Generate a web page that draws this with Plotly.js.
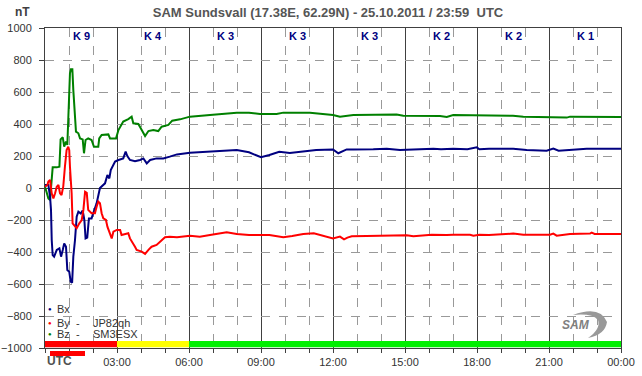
<!DOCTYPE html>
<html>
<head>
<meta charset="utf-8">
<script src="https://cdn.plot.ly/plotly-3.0.1.min.js"></script>
<style>html,body{margin:0;padding:0;background:#fff;}#chart{width:642px;height:376px;}</style>
</head>
<body>
<div id="chart"></div>
<script>
// ---- data (hours UTC, nT) ----
const tBz = [0,0.07,0.14,0.21,0.28,0.32,0.49,0.6,0.65,0.74,0.8,0.875,0.93,0.99,1.04,1.08,1.14,1.18,1.25,1.29,1.39,1.46,1.57,1.625,1.69,1.8,1.94,2.04,2.22,2.26,2.36,2.64,2.71,2.96,3.06,3.26,3.47,3.61,3.68,3.89,4.03,4.17,4.31,4.51,4.72,4.86,5.14,5.3,5.625,6.04,6.875,7.3,7.99,8.5,8.96,9.65,9.93,11.04,11.8,12.0,12.29,12.85,14.65,14.93,16.46,16.74,17.01,18.4,19.5,19.93,20.6,21.04,21.74,21.875,22.57,24];
const bz  = [8,-33,-65,-75,71,129,129,133,304,317,258,290,269,467,717,742,742,612,446,352,342,310,304,217,300,310,300,258,258,310,331,335,310,310,362,415,431,446,404,400,362,325,356,362,356,383,394,421,429,446,456,462,471,471,462,462,471,471,462,456,446,456,460,452,450,444,456,456,452,446,444,440,440,446,444,444];

const tBx = [0,0.14,0.21,0.25,0.28,0.32,0.38,0.49,0.6,0.67,0.74,0.8,0.875,0.93,1.01,1.07,1.13,1.18,1.25,1.32,1.39,1.49,1.57,1.64,1.69,1.76,1.83,1.94,2.01,2.15,2.29,2.4,2.5,2.6,2.68,2.74,2.92,3.06,3.26,3.36,3.43,3.54,3.75,3.96,4.1,4.24,4.38,4.65,4.93,5.2,5.5,6.04,6.875,7.43,7.99,8.5,9.0,9.35,9.76,10.2,10.76,11.3,12.0,12.22,12.57,12.85,13.68,14.24,14.79,15.5,16.18,16.5,17.01,17.6,17.99,18.1,18.5,19.51,20.07,20.9,21.18,21.4,22.01,22.57,24];
const bx  = [19,19,-54,-137,-325,-419,-429,-387,-377,-429,-387,-346,-367,-512,-523,-585,-592,-429,-325,-179,-148,-160,-140,-200,-315,-310,-190,-190,-158,-96,0,15,29,81,60,112,165,175,185,227,200,175,167,175,185,154,175,185,185,196,210,221,227,231,237,223,192,206,227,219,229,237,241,217,241,240,242,246,237,240,246,242,246,242,254,242,246,246,237,233,246,233,242,246,246];

const tBy = [0,0.1,0.14,0.21,0.28,0.35,0.42,0.49,0.56,0.625,0.69,0.76,0.83,0.9,0.97,1.01,1.04,1.11,1.15,1.25,1.32,1.43,1.53,1.6,1.67,1.74,1.8,1.94,2.08,2.15,2.22,2.29,2.36,2.43,2.54,2.6,2.68,2.78,2.85,2.99,3.13,3.19,3.47,3.54,3.75,3.82,4.03,4.17,4.31,4.44,4.65,4.86,5.0,5.2,5.5,6.04,6.45,6.875,7.57,7.99,8.5,9.35,9.93,10.3,10.76,11.2,11.6,12.0,12.29,12.46,12.6,12.78,13.4,13.96,15.07,15.35,15.9,16.11,16.74,17.0,17.71,17.85,18.1,18.5,19.51,19.93,21.04,21.18,21.32,21.6,21.875,22.71,22.78,22.9,24];
const by  = [8,19,40,50,-33,-65,-33,8,19,-33,-44,8,133,237,258,237,133,-33,-221,-242,-252,-221,-200,-137,-23,-30,-137,-158,-158,-117,-85,-95,-158,-190,-200,-242,-273,-315,-273,-262,-262,-294,-283,-315,-367,-387,-398,-412,-387,-367,-356,-325,-308,-304,-308,-298,-304,-294,-277,-287,-294,-294,-308,-300,-287,-283,-300,-315,-304,-321,-310,-302,-300,-298,-296,-302,-298,-292,-294,-292,-292,-298,-292,-294,-285,-292,-292,-285,-298,-292,-287,-285,-279,-287,-287];

const kIndex = [9,4,3,3,3,2,2,1];
const xTickVals = [0,3,6,9,12,15,18,21,24];
const xTickText = ['','03:00','06:00','09:00','12:00','15:00','18:00','21:00','00:00'];
const legendNames = ['Bx','By','Bz'];
const legendStations = ['','JP82qh','SM3ESX'];
const titleText = 'SAM Sundsvall (17.38E, 62.29N) - 25.10.2011 / 23:59  UTC';

// ---- styling ----
const FONT = 'Liberation Sans, Arial, sans-serif';
const COL = {Bx:'#000080', By:'#ff0000', Bz:'#008000'};
const PL = 45, PR = 621, PT = 28, PB = 348;
const px = x => (x - PL) / (PR - PL);
const py = y => (PB - y) / (PB - PT);

const traces = [
  {x:tBz, y:bz, mode:'lines', line:{color:COL.Bz, width:2}, hoverinfo:'skip'},
  {x:tBx, y:bx, mode:'lines', line:{color:COL.Bx, width:2}, hoverinfo:'skip'},
  {x:tBy, y:by, mode:'lines', line:{color:COL.By, width:2}, hoverinfo:'skip'}
];

const shapes = [];
const annotations = [];
const kColor = k => k >= 5 ? '#ff0000' : (k === 4 ? '#ffff00' : '#00f000');
kIndex.forEach((k, i) => {
  shapes.push({type:'rect', xref:'x', yref:'y', x0:i*3, x1:i*3+3, y0:-995, y1:-957,
    fillcolor:kColor(k), line:{width:0}, layer:'above'});
  annotations.push({xref:'x', yref:'paper', x:i*3+1.5, y:py(36), text:'K ' + k, showarrow:false,
    xanchor:'center', yanchor:'middle', font:{family:FONT, size:11, color:'#000080', weight:'bold'}});
});
// small red marker under the axis
shapes.push({type:'rect', xref:'paper', yref:'paper', x0:px(50), x1:px(85), y0:py(356), y1:py(351),
  fillcolor:'#ff0000', line:{width:0}});
// SAM logo swoosh
const P = (x, y) => px(x).toFixed(5) + ',' + py(y).toFixed(5);
shapes.push({type:'path', xref:'paper', yref:'paper',
  path:'M' + P(573,315) + ' Q' + P(600,305) + ' ' + P(607,322) + ' Q' + P(605,335) + ' ' + P(588,338) +
       ' Q' + P(601,329) + ' ' + P(598,320) + ' Q' + P(592,313) + ' ' + P(573,315) + ' Z',
  fillcolor:'#999999', line:{width:0}, layer:'above'});
annotations.push({xref:'paper', yref:'paper', x:px(576), y:py(325), text:'<i>SAM</i>', showarrow:false,
  xanchor:'center', yanchor:'middle', font:{family:FONT, size:12, color:'#808080', weight:'bold'}});

// legend
const legY = [309, 323, 334];
legendNames.forEach((n, i) => {
  const c = COL[n];
  annotations.push({xref:'paper', yref:'paper', x:px(50), y:py(legY[i]), text:'●', showarrow:false,
    xanchor:'center', yanchor:'middle', font:{family:FONT, size:6, color:c}});
  annotations.push({xref:'paper', yref:'paper', x:px(55), y:py(legY[i]), text:n, showarrow:false,
    xanchor:'left', yanchor:'middle', font:{family:FONT, size:11, color:'#333'}});
  if (legendStations[i]) {
    annotations.push({xref:'paper', yref:'paper', x:px(78), y:py(legY[i]), text:'-', showarrow:false,
      xanchor:'center', yanchor:'middle', font:{family:FONT, size:11, color:'#333'}});
    annotations.push({xref:'paper', yref:'paper', x:px(91), y:py(legY[i]), text:legendStations[i], showarrow:false,
      xanchor:'left', yanchor:'middle', font:{family:FONT, size:11, color:'#333'}});
  }
});
annotations.push({xref:'paper', yref:'paper', x:0, y:py(361), text:'UTC', showarrow:false,
  xanchor:'left', yanchor:'middle', font:{family:FONT, size:12, color:'#505050', weight:'bold'}});
annotations.push({xref:'paper', yref:'paper', x:px(22), y:py(12), text:'nT', showarrow:false,
  xanchor:'center', yanchor:'middle', font:{family:FONT, size:12, color:'#404040', weight:'bold'}});

const layout = {
  width:642, height:376,
  margin:{l:PL, r:642-PR, t:PT, b:376-PB, pad:0},
  paper_bgcolor:'#fff', plot_bgcolor:'#fff', showlegend:false,
  title:{text:titleText, x:328/642, xref:'container', y:1-12/376, yref:'container', xanchor:'center', yanchor:'middle',
    font:{family:FONT, size:13, color:'#555', weight:'bold'}},
  xaxis:{range:[0,24], tickmode:'array', tickvals:xTickVals, ticktext:xTickText,
    ticks:'outside', ticklen:4, tickcolor:'#404040', tickwidth:1,
    showgrid:true, gridcolor:'#404040', gridwidth:1,
    showline:true, linecolor:'#404040', linewidth:1, mirror:true, zeroline:false,
    minor:{tickmode:'linear', tick0:0, dtick:1, ticks:'outside', ticklen:4, tickcolor:'#404040',
      showgrid:true, gridcolor:'#999', griddash:'dash', gridwidth:1},
    tickfont:{family:FONT, size:11, color:'#333'}, fixedrange:true},
  yaxis:{range:[-1000,1000], tickmode:'linear', tick0:-1000, dtick:200,
    ticks:'outside', ticklen:5, tickcolor:'#404040',
    showgrid:true, gridcolor:'#999', griddash:'dash', gridwidth:1,
    zeroline:true, zerolinecolor:'#404040', zerolinewidth:1,
    showline:true, linecolor:'#404040', linewidth:1, mirror:true,
    ticklabelstandoff:5,
    tickfont:{family:FONT, size:11, color:'#333'}, fixedrange:true},
  shapes:shapes, annotations:annotations
};

Plotly.newPlot('chart', traces, layout, {staticPlot:true, displayModeBar:false});
</script>
</body>
</html>
